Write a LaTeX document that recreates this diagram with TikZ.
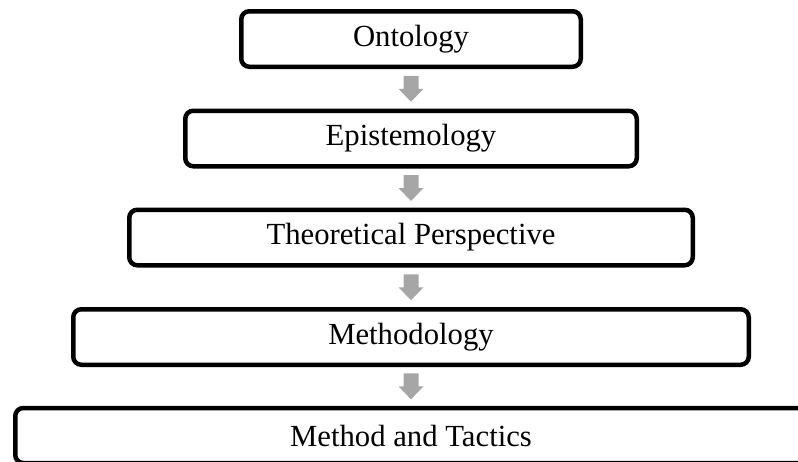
\documentclass[tikz,border=0pt]{standalone}
\usepackage{fontspec}
\setmainfont{Liberation Serif}
\definecolor{arrowgray}{RGB}{166,166,166}
\begin{document}
\begin{tikzpicture}[x=1pt,y=-1pt,
  level/.style={draw=black, line width=4.5pt, rounded corners=8pt, fill=white,
    inner sep=0pt, minimum height=55.5pt,
    font=\fontsize{30.7}{36}\selectfont},
  darrow/.pic={
    \fill[arrowgray] (-7.5,-13) -- (7.5,-13) -- (7.5,0) -- (12.5,0) -- (0,13)
      -- (-12.5,0) -- (-7.5,0) -- cycle;
  }]
  \useasboundingbox (0,0) rectangle (798,461);
  \clip (0,0) rectangle (798,461);

  % stacked levels, each one wider than the one above
  \node[level, minimum width=339.5pt] (ont) at (411,39)    {Ontology};
  \node[level, minimum width=451.5pt] (epi) at (411,138.5) {Epistemology};
  \node[level, minimum width=563.5pt] (the) at (411,237.5) {Theoretical Perspective};
  \node[level, minimum width=675.5pt] (met) at (411,337)   {Methodology};
  \node[level, minimum width=791.5pt, minimum height=55pt] (tac) at (411,435.5) {Method and Tactics};

  % grey block arrows between consecutive levels
  \path (ont) -- pic[pos=0.5]{darrow} (epi);
  \path (epi) -- pic[pos=0.5]{darrow} (the);
  \path (the) -- pic[pos=0.5]{darrow} (met);
  \path (met) -- pic[pos=0.5]{darrow} (tac);
\end{tikzpicture}
\end{document}
